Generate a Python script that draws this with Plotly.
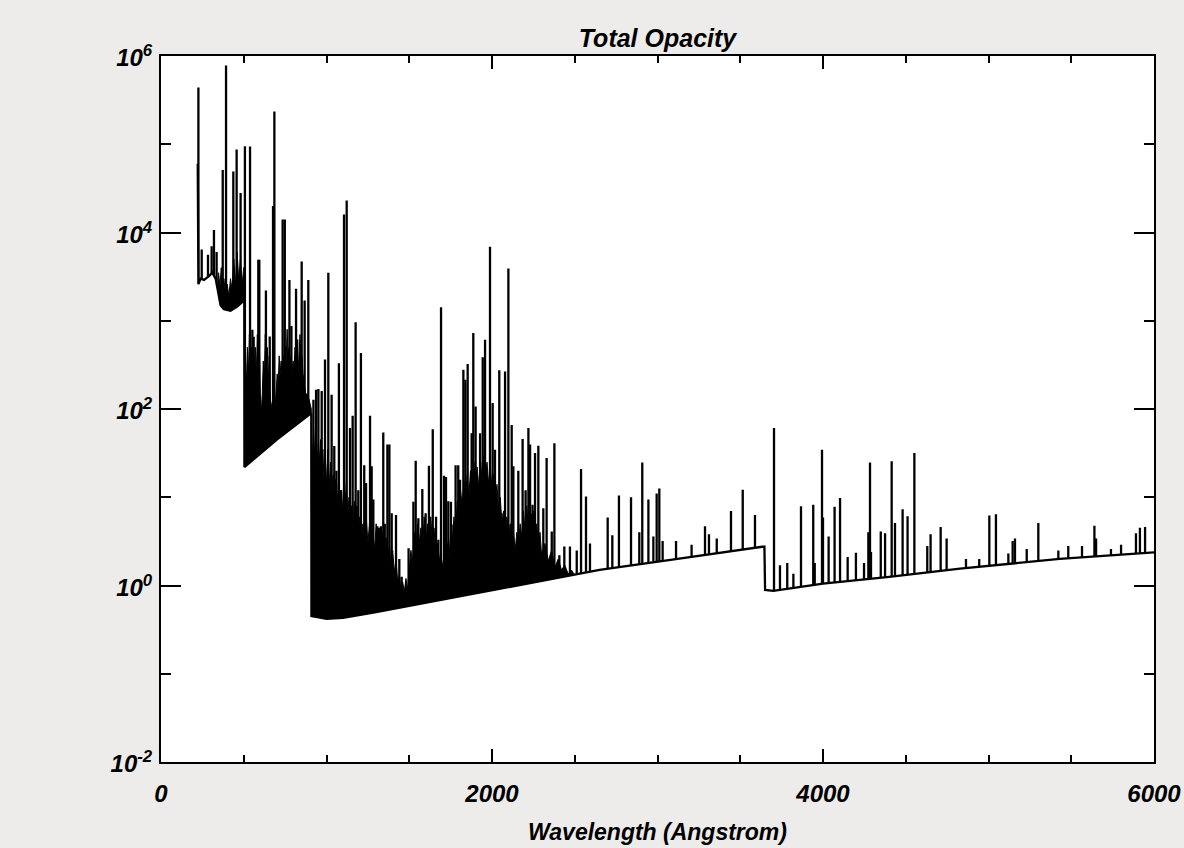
import plotly.graph_objects as go

# ---------------- data ----------------
# continuum (with absorption edges) : wavelength [A], opacity
cont_wl = [222, 226, 240, 260, 290, 310, 330, 345, 360, 380, 420, 460, 503,
           504, 700, 908,
           909, 1000, 1100, 1300, 1645, 2000, 2250, 2650, 3100, 3646,
           3650, 3700, 4000, 4400, 4828, 5430, 6000]
cont_op = [6.0e4, 2.6e3, 3.0e3, 2.9e3, 3.2e3, 3.5e3, 3.0e3, 2.2e3, 1.5e3, 1.35e3, 1.3e3, 1.45e3, 1.7e3,
           22, 45, 90,
           0.45, 0.42, 0.43, 0.5, 0.66, 0.88, 1.07, 1.5, 1.98, 2.77,
           0.89, 0.87, 1.05, 1.25, 1.55, 2.0, 2.37]

# individual spectral lines : wavelength [A], peak opacity
line_wl = [226, 246, 284, 306, 320, 336, 373, 393, 437, 457, 481,
           507, 516, 538, 552, 560, 588, 594, 634, 657, 677, 685, 735, 748, 776, 788, 816, 823, 850, 868, 890,
           921, 937, 951, 965, 971, 991, 1011, 1031, 1047, 1060, 1075, 1088, 1106, 1122, 1142, 1158, 1176,
           1192, 1208, 1228, 1239, 1263, 1273, 1283, 1307, 1317, 1329, 1343, 1352, 1368, 1380, 1394, 1420,
           1440, 1454, 1496, 1525, 1539, 1555, 1579, 1599, 1619, 1642, 1662, 1676, 1692, 1710, 1722, 1736,
           1752, 1767, 1780, 1796, 1807, 1827, 1839, 1853, 1877, 1887, 1901, 1928, 1944, 1958, 1988, 2004,
           2018, 2044, 2057, 2079, 2099, 2119, 2129, 2155, 2159, 2169, 2185, 2203, 2220, 2230, 2243, 2245,
           2260, 2280, 2310, 2330, 2361, 2377, 2407, 2437, 2471, 2512, 2538, 2568, 2592, 2699, 2727, 2767,
           2840, 2890, 2908, 2945, 2975, 2995, 3011, 3031, 3112, 3206, 3287, 3311, 3358, 3444, 3515, 3589,
           3704, 3740, 3784, 3821, 3867, 3941, 3950, 3994, 4000, 4034, 4070, 4103, 4149, 4199, 4248, 4274,
           4284, 4290, 4349, 4375, 4415, 4435, 4481, 4511, 4552, 4630, 4650, 4711, 4747, 4864, 4944, 5005,
           5045, 5120, 5146, 5160, 5231, 5301, 5422, 5482, 5565, 5640, 5650, 5740, 5801, 5891, 5915, 5946]
line_op = [4.4e5, 6.4e3, 5.6e3, 7.0e3, 1.07e4, 6.0e3, 5.1e4, 7.8e5, 4.9e4, 8.7e4, 2.8e4,
           9.5e4, 235, 9.4e4, 790, 660, 4.9e3, 4.9e3, 2.2e3, 665, 2.0e4, 2.35e5, 1.4e4, 1.4e4, 2.9e3, 870, 2.3e3, 615, 4.7e3, 1.7e3, 2.9e3,
           127, 165, 169, 20, 160, 363, 3.5e3, 145, 38, 20, 331, 12, 1.6e4, 2.3e4, 61, 84, 960,
           12, 430, 23, 14.5, 84, 22.4, 9.4, 4.7, 4.5, 4.7, 54, 5, 39.5, 39.5, 6.6, 6.3,
           2, 1.26, 2.65, 8.9, 26, 5.8, 12.4, 6.6, 22.7, 59, 6, 3.3, 1.42e3, 17.5, 17, 9,
           8.9, 4.9, 23, 23, 15.8, 279, 215, 324, 53, 727, 107, 53, 387, 610, 6.9e3, 117,
           34.6, 275, 6.6, 266, 3.9e3, 66, 22.4, 2.65, 20, 2.9, 45.7, 12, 61, 39.5, 6.6, 8.2,
           31.7, 38.3, 7.5, 27.8, 4.1, 41, 2.2, 2.77, 2.77, 2.5, 20.9, 10.2, 3.0, 5.9, 3.7, 10.5,
           10, 4.0, 24.8, 9.4, 3.6, 11, 12.6, 3.2, 3.2, 2.9, 4.7, 3.8, 3.4, 7.0, 12.2, 6.3,
           61, 1.7, 1.8, 1.36, 7.9, 8.2, 1.8, 34.6, 5.9, 3.6, 7.8, 9.8, 2.1, 2.35, 1.8, 4.0,
           24.8, 2.4, 4.1, 3.9, 25.5, 5.1, 7.3, 6.1, 31.8, 2.8, 3.8, 4.6, 3.4, 2.0, 2.0, 6.2,
           6.4, 2.3, 3.2, 3.4, 2.6, 5.1, 2.5, 2.8, 2.8, 4.75, 3.4, 2.6, 2.9, 3.9, 4.5, 4.6]

# upper edge of the densely blended line forests (solid black bands)
band1_wl = [340, 348, 356, 364, 372, 380, 390, 400, 410, 420, 430, 440, 450, 460, 470, 480, 490, 500, 503]
band1_op = [2.2e3, 3.5e3, 2.4e3, 4.0e3, 2.2e3, 3.0e3, 2.0e3, 2.6e3, 1.9e3, 3.0e3, 2.2e3, 5.0e3, 2.5e3,
            6.0e3, 2.8e3, 5.0e3, 2.6e3, 4.0e3, 2.0e3]

band2_wl = [504, 510, 516, 522, 528, 534, 540, 546, 552, 558, 564, 570, 576, 582, 588, 594, 600, 606,
            612, 618, 624, 630, 636, 642, 648, 654, 660, 666, 672, 678, 684, 690, 696, 702, 708, 714,
            720, 726, 732, 738, 744, 750, 756, 762, 768, 774, 780, 786, 792, 798, 804, 810, 816, 822,
            828, 834, 840, 846, 852, 858, 864, 870, 876, 882, 888, 894, 900, 908]
band2_op = [210, 400, 180, 500, 250, 700, 300, 500, 250, 600, 300, 500, 250, 700, 350, 600, 150, 90,
            150, 350, 200, 700, 300, 500, 200, 400, 130, 110, 100, 120, 100, 110, 150, 250, 180, 400,
            250, 350, 200, 400, 250, 500, 350, 800, 400, 500, 250, 400, 250, 350, 300, 500, 300, 400,
            250, 500, 700, 350, 400, 250, 200, 180, 140, 150, 120, 130, 110, 100]

band3_wl = [909, 915, 922, 928, 935, 942, 950, 957, 964, 971, 978, 985, 992, 1000, 1008, 1016, 1024,
            1032, 1040, 1048, 1056, 1064, 1072, 1080, 1088, 1096, 1104, 1112, 1120, 1128, 1136, 1144,
            1152, 1160, 1168, 1176, 1184, 1192, 1200, 1210, 1220, 1230, 1240, 1250, 1260, 1270, 1280,
            1290, 1300, 1310, 1320, 1330, 1340, 1350, 1360, 1370, 1380, 1390, 1400, 1410, 1420, 1430,
            1440, 1450, 1460, 1470, 1480, 1490, 1500, 1510, 1520, 1530, 1540, 1550, 1560, 1570, 1580,
            1590, 1600, 1610, 1620, 1630, 1640, 1650, 1660, 1670, 1680, 1690, 1700, 1710, 1720, 1730,
            1740, 1750, 1760, 1770, 1780, 1790, 1800, 1810, 1820, 1830, 1840, 1850, 1860, 1870, 1880,
            1890, 1900, 1910, 1920, 1930, 1940, 1950, 1960, 1970, 1980, 1990, 2000, 2010, 2020, 2030,
            2040, 2050, 2060, 2070, 2080, 2090, 2100, 2110, 2120, 2130, 2140, 2150, 2160, 2170, 2180,
            2190, 2200, 2210, 2220, 2230, 2240, 2250, 2260, 2270, 2280, 2290, 2300, 2320, 2340, 2360,
            2380, 2400, 2420, 2440, 2460, 2480, 2500, 2520]
band3_op = [45, 25, 60, 30, 50, 20, 40, 25, 45, 18, 35, 15, 30, 14, 35, 12, 25,
            10, 18, 9, 16, 8, 14, 7, 12, 7, 14, 8, 15, 6, 10, 5,
            8, 4, 9, 5, 8, 3.5, 6, 3, 5, 2.5, 6, 3, 5, 2.2, 4,
            2.5, 5, 2.2, 4, 2, 4, 2, 3.5, 1.8, 3, 1.6, 2.5, 1.4, 2, 1.1,
            1.3, 0.9, 1.1, 0.85, 1.2, 0.9, 1.5, 2.5, 1.8, 4, 2.5, 5, 3, 4.5, 2.5,
            6, 3, 5, 3.5, 6, 3, 4.5, 2.2, 3, 1.8, 2.5, 1.6, 2.2, 1.7, 3,
            2, 4, 3, 6, 4, 9, 6, 12, 8, 15, 9, 18, 10, 20, 12,
            25, 14, 22, 13, 28, 15, 30, 18, 25, 14, 22, 12, 18, 9, 14,
            7, 10, 5, 7, 4, 6, 3.5, 5, 3, 4, 2.5, 4, 3, 5, 3.5,
            7, 4, 8, 4.5, 9, 4, 7, 3.5, 5, 2.8, 4, 2.2, 3, 1.9, 2.5,
            1.6, 2, 1.5, 1.7, 1.35, 1.5, 1.3, 1.3]

x_ticks = [0, 2000, 4000, 6000]
y_ticks = [1e-2, 1e0, 1e2, 1e4, 1e6]
y_ticktext = ["10<sup>-2</sup>", "10<sup>0</sup>", "10<sup>2</sup>", "10<sup>4</sup>", "10<sup>6</sup>"]
y_minor = [1e-1, 1e1, 1e3, 1e5]

# ---------------- figure ----------------
FLOOR = 1e-4          # drawing floor below the visible range
FONT = "Liberation Sans, Arial, Helvetica, sans-serif"

fig = go.Figure()

# dense line forests
for bw, bo in [(band1_wl, band1_op), (band2_wl, band2_op), (band3_wl, band3_op)]:
    fig.add_trace(go.Scatter(x=bw + bw[::-1], y=bo + [FLOOR] * len(bw),
                             fill="toself", fillcolor="black", mode="lines",
                             line=dict(color="black", width=1), hoverinfo="skip",
                             showlegend=False))

# individual lines
lx, ly = [], []
for w, p in zip(line_wl, line_op):
    lx += [w, w, None]
    ly += [p, FLOOR, None]
fig.add_trace(go.Scatter(x=lx, y=ly, mode="lines", line=dict(color="black", width=2.3),
                         hoverinfo="skip", showlegend=False))

# blank out everything below the continuum
fig.add_trace(go.Scatter(x=[0] + cont_wl + [cont_wl[-1]],
                         y=[FLOOR] + cont_op + [FLOOR],
                         fill="toself", fillcolor="white", mode="none",
                         hoverinfo="skip", showlegend=False))

# continuum
fig.add_trace(go.Scatter(x=cont_wl, y=cont_op, mode="lines",
                         line=dict(color="black", width=2.3), name="Total Opacity",
                         showlegend=False))

axis_font = dict(family=FONT, size=24, color="black", weight="bold", style="italic")

fig.update_layout(
    width=1184, height=848,
    margin=dict(l=161, r=30, t=56, b=86, autoexpand=False),
    paper_bgcolor="#edecea",
    plot_bgcolor="white",
    showlegend=False,
    title=dict(text="Total Opacity", x=0.5, xref="paper", xanchor="center",
               y=1, yref="paper", yanchor="bottom", pad=dict(b=9),
               font=dict(family=FONT, size=25, color="black", weight="bold", style="italic")),
    xaxis=dict(range=[0, 6000], tickvals=x_ticks, ticktext=[str(v) for v in x_ticks],
               automargin=False,
               showline=True, linecolor="black", linewidth=2, mirror="allticks",
               ticks="inside", ticklen=13, tickwidth=2, tickcolor="black",
               showgrid=False, zeroline=False, tickfont=axis_font,
               ticklabelstandoff=9,
               minor=dict(dtick=500, ticks="inside", ticklen=7, tickwidth=2,
                          tickcolor="black", showgrid=False),
               title=dict(text="Wavelength (Angstrom)", standoff=18,
                          font=dict(family=FONT, size=23, color="black",
                                    weight="bold", style="italic"))),
    yaxis=dict(type="log", range=[-2, 6], tickvals=y_ticks, ticktext=y_ticktext,
               automargin=False,
               showline=True, linecolor="black", linewidth=2, mirror="allticks",
               ticks="inside", ticklen=20, tickwidth=2, tickcolor="black",
               showgrid=False, zeroline=False, tickfont=axis_font,
               ticklabelshift=2, ticklabelstandoff=2,
               minor=dict(tickvals=y_minor, ticks="inside", ticklen=10, tickwidth=2,
                          tickcolor="black", showgrid=False)),
)

fig.write_html("out.html")
